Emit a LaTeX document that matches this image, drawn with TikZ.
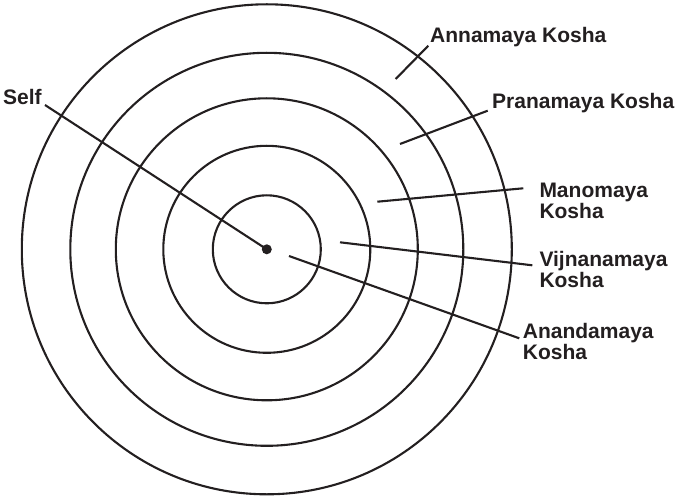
\documentclass[tikz,border=0pt]{standalone}
\usepackage{fontspec}
\setmainfont{Liberation Sans}
\definecolor{ink}{HTML}{231F20}
\begin{document}
\begin{tikzpicture}[x=1pt,y=-1pt,
  ring/.style={draw=ink,line width=2.1pt},
  leader/.style={draw=ink,line width=2.1pt},
  lbl/.style={inner sep=0pt,text=ink,font=\fontsize{21}{21.4}\selectfont\bfseries,align=left}]
\useasboundingbox (0,0) rectangle (680,497);
\coordinate (c) at (266.8,249.3);
\foreach \r in {54,103.5,151,196.5,245}
  \draw[ring] (c) circle[radius=\r];
\node[circle,fill=ink,inner sep=0pt,minimum size=10pt] (dot) at (c) {};
% labels
\node[lbl,anchor=base west] (self) at (3,105) {Self};
\node[lbl,anchor=base west] (anna) at (430,42.5) {Annamaya Kosha};
\node[lbl,anchor=base west] (prana) at (492,108.3) {Pranamaya Kosha};
\node[lbl,anchor=north west] (mano) at (539.3,182.7) {Manomaya\\Kosha};
\node[lbl,anchor=north west] (vijn) at (539.3,250.7) {Vijnanamaya\\Kosha};
\node[lbl,anchor=north west] (ananda) at (522.7,322.7) {Anandamaya\\Kosha};
% leader ends
\coordinate (s0) at (45,105);
\coordinate (a0) at (428.3,45.7);  \coordinate (a1) at (395.7,79);
\coordinate (p0) at (487.7,110.7); \coordinate (p1) at (400,144);
\coordinate (m0) at (523.3,188.3); \coordinate (m1) at (377.3,201.7);
\coordinate (v0) at (532.3,265.3); \coordinate (v1) at (340,242.3);
\coordinate (n0) at (519.3,338.3); \coordinate (n1) at (289,256);
\draw[leader] (s0) -- (dot.center);
\draw[leader] (a0) -- (a1);
\draw[leader] (p0) -- (p1);
\draw[leader] (m0) -- (m1);
\draw[leader] (v0) -- (v1);
\draw[leader] (n0) -- (n1);
\end{tikzpicture}
\end{document}
